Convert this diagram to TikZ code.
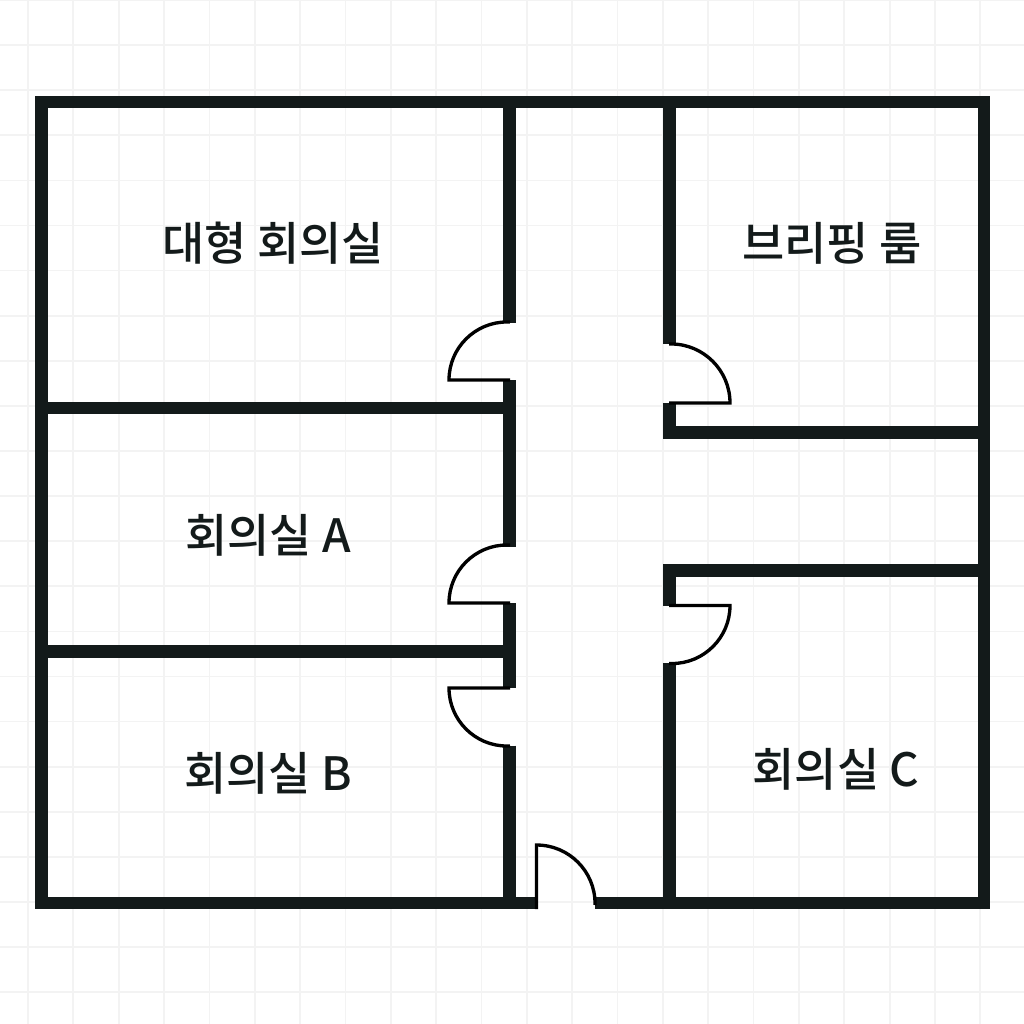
\documentclass[tikz,border=0pt]{standalone}
\usepackage{fontspec}
\setmainfont{Noto Sans CJK KR Medium}
\usepackage{xcolor}
\definecolor{wallcolor}{HTML}{131A1A}
\definecolor{gridcolor}{HTML}{F3F3F3}
\tikzset{
  wall/.style={draw=wallcolor,line width=3.55pt,line cap=butt,miter limit=10},
  door/.style={draw=black,line width=0.95pt,line cap=butt},
  gridline/.style={draw=gridcolor,line width=0.5pt},
  roomlabel/.style={text=wallcolor,font=\fontsize{13.05pt}{15pt}\selectfont,inner sep=0pt}
}
\begin{document}
\begin{tikzpicture}[x=0.01cm,y=-0.01cm]
\useasboundingbox (0,0) rectangle (1024,1024);
\fill[white] (0,0) rectangle (1024,1024);

% Background grid
\foreach \k in {0,...,22} {
  \draw[gridline] ({28+45.35*\k},0) -- ({28+45.35*\k},1024);
  \draw[gridline] (0,{45.1*\k}) -- (1024,{45.1*\k});
}

% Outer walls
\draw[wall] (536.5,903) -- (41.5,903) -- (41.5,102) -- (984,102) -- (984,903) -- (595,903);

% Corridor walls, left
\draw[wall] (509.5,102) -- (509.5,322.5);
\draw[wall] (509.5,380) -- (509.5,546.5);
\draw[wall] (509.5,603) -- (509.5,688);
\draw[wall] (509.5,745.5) -- (509.5,903);

% Corridor walls, right
\draw[wall] (669.5,102) -- (669.5,344);
\draw[wall] (669.5,402.5) -- (669.5,432.5) -- (984,432.5);
\draw[wall] (984,570.5) -- (669.5,570.5) -- (669.5,606);
\draw[wall] (669.5,663) -- (669.5,903);

% Room dividers
\draw[wall] (41.5,407.8) -- (509.5,407.8);
\draw[wall] (41.5,651.5) -- (509.5,651.5);

% Doors
\draw[door] (510,380) -- (449,380) arc[start angle=180,end angle=90,radius=0.58cm] -- (510,322);
\draw[door] (510,603) -- (449,603) arc[start angle=180,end angle=90,radius=0.58cm] -- (510,545);
\draw[door] (510,688) -- (449,688) arc[start angle=180,end angle=270,radius=0.58cm] -- (510,746);
\draw[door] (669,403) -- (730,403) arc[start angle=0,end angle=90,radius=0.59cm] -- (669,344);
\draw[door] (669,605.5) -- (730,605.5) arc[start angle=0,end angle=-90,radius=0.58cm] -- (669,663.5);
\draw[door] (536.5,909) -- (536.5,845) arc[start angle=90,end angle=0,radius=0.585cm] -- (595,905);

% Room names
\node[roomlabel] (large) at (273,243) {대형 회의실};
\node[roomlabel] (briefing) at (832,243) {브리핑 룸};
\node[roomlabel] (rooma) at (268,535) {회의실 A};
\node[roomlabel] (roomb) at (268,773) {회의실 B};
\node[roomlabel] (roomc) at (836,769) {회의실 C};
\end{tikzpicture}
\end{document}
